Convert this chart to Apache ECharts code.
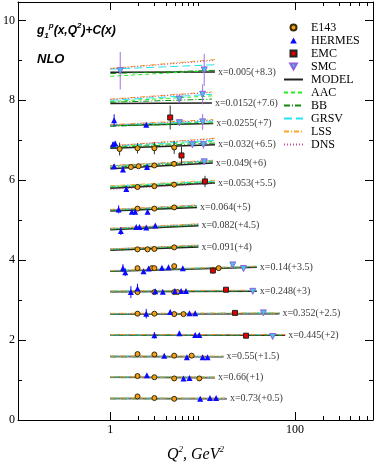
<!DOCTYPE html>
<html>
<head>
<meta charset="utf-8">
<script src="https://cdn.jsdelivr.net/npm/echarts@6/dist/echarts.min.js"></script>
<style>
  html, body { margin: 0; padding: 0; background: #fff; }
  #main { width: 374px; height: 468px; }
</style>
</head>
<body>
<div id="main"></div>
<script>
// x bins, their labels and where the curves stop (Q^2, GeV^2)
var binLabels = ['x=0.005(+8.3)', 'x=0.0152(+7.6)', 'x=0.0255(+7)', 'x=0.032(+6.5)', 'x=0.049(+6)',
  'x=0.053(+5.5)', 'x=0.064(+5)', 'x=0.082(+4.5)', 'x=0.091(+4)', 'x=0.14(+3.5)', 'x=0.248(+3)',
  'x=0.352(+2.5)', 'x=0.445(+2)', 'x=0.55(+1.5)', 'x=0.66(+1)', 'x=0.73(+0.5)'];
var binQmax = [13.6, 12.6, 13.0, 13.6, 12.9, 13.6, 8.7, 9.0, 9.0, 38.6, 38.6, 67.9, 78.3, 16.8, 13.6, 18.3];

// curves: value at Q^2=1 and at Q^2=binQmax, one entry per bin
var modelStart = [8.70, 7.92, 7.37, 6.80, 6.29, 5.80, 5.23, 4.76, 4.25, 3.72, 3.21, 2.65, 2.13, 1.59, 1.07, 0.54];
var modelEnd   = [8.71, 7.93, 7.42, 6.89, 6.43, 5.93, 5.32, 4.86, 4.33, 3.82, 3.22, 2.66, 2.12, 1.58, 1.06, 0.53];
var aacStart   = [8.60, 7.97, 7.36, 6.84, 6.35, 5.84, 5.25, 4.78, 4.27, 3.73, 3.22, 2.66, 2.13, 1.59, 1.07, 0.54];
var aacEnd     = [8.75, 8.11, 7.46, 6.97, 6.48, 5.97, 5.36, 4.89, 4.36, 3.84, 3.24, 2.67, 2.13, 1.59, 1.07, 0.54];
var bbStart    = [8.67, 7.95, 7.35, 6.82, 6.32, 5.82, 5.24, 4.77, 4.26, 3.72, 3.21, 2.65, 2.12, 1.58, 1.06, 0.53];
var bbEnd      = [8.75, 8.03, 7.43, 6.93, 6.46, 5.95, 5.34, 4.87, 4.35, 3.83, 3.23, 2.67, 2.13, 1.59, 1.07, 0.54];
var grsvStart  = [8.78, 8.00, 7.38, 6.85, 6.36, 5.85, 5.26, 4.79, 4.28, 3.74, 3.23, 2.66, 2.13, 1.60, 1.08, 0.55];
var grsvEnd    = [8.89, 8.15, 7.48, 7.00, 6.49, 5.98, 5.37, 4.90, 4.37, 3.85, 3.24, 2.68, 2.14, 1.59, 1.07, 0.54];
var lssStart   = [8.80, 8.03, 7.39, 6.86, 6.37, 5.86, 5.27, 4.80, 4.28, 3.74, 3.23, 2.67, 2.14, 1.60, 1.08, 0.55];
var lssEnd     = [9.02, 8.21, 7.52, 7.05, 6.50, 6.00, 5.38, 4.91, 4.38, 3.85, 3.25, 2.68, 2.14, 1.60, 1.07, 0.55];
var dnsStart   = [8.79, 8.02, 7.38, 6.86, 6.36, 5.77, 5.26, 4.79, 4.28, 3.73, 3.22, 2.66, 2.13, 1.59, 1.07, 0.54];
var dnsEnd     = [9.00, 8.20, 7.50, 7.04, 6.49, 5.92, 5.37, 4.90, 4.37, 3.84, 3.24, 2.67, 2.13, 1.59, 1.07, 0.54];

// data points: [Q^2, g1 + C, error]
var e143Points = [
  [1.26, 6.78, 0.16], [1.97, 6.80, 0.13], [3.0, 6.80, 0.15], [4.92, 6.82, 0.16],
  [1.67, 6.33, 0.04], [2.02, 6.35, 0.04], [3.0, 6.37, 0.04], [4.9, 6.41, 0.05],
  [1.97, 5.83, 0.03], [3.0, 5.85, 0.03], [4.9, 5.89, 0.04],
  [1.97, 5.29, 0.03], [3.0, 5.29, 0.03], [4.92, 5.32, 0.03],
  [1.97, 4.27, 0.03], [2.53, 4.27, 0.03], [3.0, 4.28, 0.03], [4.92, 4.32, 0.03],
  [1.97, 3.80, 0.03], [2.82, 3.80, 0.03], [3.0, 3.80, 0.03], [4.92, 3.85, 0.03], [14.9, 3.80, 0.04],
  [1.97, 3.20, 0.03], [3.0, 3.20, 0.03], [4.92, 3.20, 0.03], [5.34, 3.20, 0.03],
  [1.97, 2.66, 0.03], [3.0, 2.66, 0.03], [4.92, 2.65, 0.03], [6.2, 2.65, 0.03],
  [1.97, 1.65, 0.03], [3.0, 1.64, 0.03], [4.92, 1.61, 0.03], [7.6, 1.61, 0.03],
  [1.97, 1.10, 0.03], [3.0, 1.07, 0.03], [4.92, 1.04, 0.03], [9.2, 1.04, 0.03],
  [1.97, 0.59, 0.03], [3.0, 0.55, 0.03], [4.92, 0.53, 0.03]
];
var hermesPoints = [
  [1.1, 7.50, 0.15], [2.45, 7.39, 0.05],
  [1.07, 6.90, 0.06], [1.13, 6.92, 0.06],
  [1.1, 6.35, 0.05], [1.37, 6.27, 0.07], [2.5, 6.33, 0.03],
  [1.49, 5.78, 0.07],
  [1.23, 5.27, 0.1], [1.71, 5.21, 0.04], [1.86, 5.21, 0.04], [2.53, 5.21, 0.04],
  [1.3, 4.73, 0.1], [1.91, 4.83, 0.03], [2.07, 4.83, 0.03], [2.45, 4.82, 0.03], [3.07, 4.87, 0.03],
  [1.37, 3.80, 0.1], [1.45, 3.70, 0.1], [2.29, 3.72, 0.03], [2.6, 3.79, 0.03], [3.62, 3.81, 0.03], [4.27, 3.82, 0.03], [6.1, 3.80, 0.03],
  [1.67, 3.20, 0.15], [1.97, 3.29, 0.12], [3.07, 3.22, 0.03], [3.7, 3.21, 0.03], [5.0, 3.23, 0.03], [5.85, 3.23, 0.03], [6.6, 3.23, 0.03],
  [2.45, 2.66, 0.12], [4.45, 2.70, 0.04], [7.2, 2.67, 0.04], [8.3, 2.67, 0.04],
  [3.0, 2.12, 0.08], [5.6, 2.17, 0.04], [8.3, 2.13, 0.04], [9.2, 2.13, 0.04],
  [3.84, 1.61, 0.03], [6.75, 1.57, 0.03], [10.0, 1.57, 0.03], [11.3, 1.57, 0.03],
  [2.49, 1.12, 0.03], [6.2, 1.04, 0.03], [7.2, 1.05, 0.03],
  [9.4, 0.53, 0.03], [12.0, 0.55, 0.03], [14.0, 0.55, 0.03]
];
var emcPoints = [
  [4.45, 7.57, 0.3], [5.9, 6.62, 0.22], [10.6, 5.97, 0.14], [12.9, 3.74, 0.08],
  [17.9, 3.26, 0.04], [22.4, 2.68, 0.04], [29.5, 2.11, 0.03]
];
var smcPoints = [
  [1.28, 8.74, 0.47], [10.4, 8.76, 0.4],
  [5.6, 8.03, 0.1], [10.0, 8.15, 0.25],
  [5.6, 7.44, 0.08], [10.0, 7.46, 0.2],
  [7.75, 6.89, 0.08], [10.2, 6.89, 0.1],
  [10.4, 6.46, 0.06],
  [21.2, 3.88, 0.04], [27.7, 3.79, 0.04],
  [34.9, 3.22, 0.03], [45.5, 2.68, 0.03], [57.3, 2.09, 0.03]
];

// axis ticks
var xMajor = [1, 100];
var xMinor = [2, 3, 4, 5, 6, 7, 8, 9, 200, 300, 400, 500, 600];
var yMajor = [0, 2, 4, 6, 8, 10];
var yMinor = [1, 3, 5, 7, 9];

var serif = 'Liberation Serif';
var triUp = 'path://M5,0 L10,9 L0,9 Z';
var triDown = 'path://M0,0 L10,0 L5,9 Z';
var square = 'path://M0,0 L10,0 L10,10 L0,10 Z';

// two points per bin, break between bins
function segs(start, end) {
  var d = [];
  for (var i = 0; i < binQmax.length; i++) {
    d.push([1, start[i]], [binQmax[i], end[i]], ['-', '-']);
  }
  return d;
}

function lineSeries(name, start, end, color, type, width) {
  return {
    name: name, type: 'line', xAxisIndex: 0, yAxisIndex: 0,
    data: segs(start, end), showSymbol: false, symbol: 'none',
    connectNulls: false, silent: true, z: 2,
    lineStyle: { color: color, width: width || 1, type: type },
    itemStyle: { color: color }
  };
}

// vertical error bars
function errRender(params, api) {
  var q = api.value(0), v = api.value(1), e = api.value(2);
  var p1 = api.coord([q, v - e]), p2 = api.coord([q, v + e]);
  return {
    type: 'line',
    shape: { x1: p1[0], y1: p1[1], x2: p2[0], y2: p2[1] },
    style: { stroke: api.visual('color'), lineWidth: 1 }
  };
}
function errSeries(name, data, color) {
  return {
    name: name, type: 'custom', renderItem: errRender, data: data,
    encode: { x: 0, y: 1 }, itemStyle: { color: color }, silent: true, z: 3
  };
}

function xAx(pos, ticks, len, line, labels) {
  return {
    type: 'log', logBase: 10, min: 0.1, max: 700, position: pos, gridIndex: 0,
    axisLine: { show: line, onZero: false, lineStyle: { color: '#000', width: 1 } },
    axisTick: { show: true, inside: true, length: len, customValues: ticks, lineStyle: { color: '#000' } },
    axisLabel: labels ? { show: true, customValues: xMajor, color: '#000', fontFamily: serif, fontSize: 12, margin: 4,
      formatter: function (v) { return String(Math.round(v)); } } : { show: false },
    splitLine: { show: false }, minorTick: { show: false }
  };
}
function yAx(pos, ticks, len, line, labels) {
  return {
    type: 'value', min: 0, max: 10.46, position: pos, gridIndex: 0,
    axisLine: { show: line, onZero: false, lineStyle: { color: '#000', width: 1 } },
    axisTick: { show: true, inside: true, length: len, customValues: ticks, lineStyle: { color: '#000' } },
    axisLabel: labels ? { show: true, customValues: yMajor, color: '#000', fontFamily: serif, fontSize: 12, margin: 3 } : { show: false },
    splitLine: { show: false }
  };
}

var xAxes = [
  xAx('bottom', xMajor, 8, true, true),
  xAx('bottom', xMinor, 4, false, false),
  xAx('top', xMajor, 8, true, false),
  xAx('top', xMinor, 4, false, false)
];
xAxes[0].name = '{i|Q}{s|2}{i|, GeV}{s|2}';
xAxes[0].nameLocation = 'middle';
xAxes[0].nameGap = 25;
xAxes[0].nameTextStyle = {
  rich: {
    i: { fontFamily: serif, fontStyle: 'italic', fontSize: 16, color: '#000', lineHeight: 20 },
    s: { fontFamily: serif, fontStyle: 'italic', fontSize: 9, color: '#000', verticalAlign: 'top', lineHeight: 10 }
  }
};

var yAxes = [
  yAx('left', yMajor, 8, true, true),
  yAx('left', yMinor, 4, false, false),
  yAx('right', yMajor, 8, true, false),
  yAx('right', yMinor, 4, false, false)
];

var labelData = binLabels.map(function (t, i) { return [binQmax[i], modelEnd[i], t]; });
var noSym = { opacity: 0 };

var chart = echarts.init(document.getElementById('main'), null, { renderer: 'canvas' });
var option = {
  animation: false,
  backgroundColor: '#fff',
  grid: { left: 17, right: 1, top: 2, bottom: 37, containLabel: false },
  xAxis: xAxes,
  yAxis: yAxes,
  legend: {
    orient: 'vertical', left: 283, top: 21, padding: 0,
    itemWidth: 19, itemHeight: 6, itemGap: 0,
    textStyle: { fontFamily: serif, fontSize: 12, color: '#000', lineHeight: 13, padding: [0, 0, 0, 3] },
    data: [
      { name: 'E143', icon: 'circle' },
      { name: 'HERMES', icon: triUp },
      { name: 'EMC', icon: square },
      { name: 'SMC', icon: triDown },
      { name: 'MODEL', itemStyle: noSym },
      { name: 'AAC', itemStyle: noSym },
      { name: 'BB', itemStyle: noSym },
      { name: 'GRSV', itemStyle: noSym },
      { name: 'LSS', itemStyle: noSym },
      { name: 'DNS', itemStyle: noSym }
    ]
  },
  graphic: [
    {
      type: 'text', left: 37, top: 22,
      style: {
        text: '{t|g}{s|1}{p|p}{t|(x,Q}{p|2}{t|)+C(x)}',
        rich: {
          t: { fontFamily: 'Liberation Sans', fontWeight: 'bold', fontStyle: 'italic', fontSize: 12, fill: '#000', lineHeight: 18 },
          s: { fontFamily: 'Liberation Sans', fontWeight: 'bold', fontStyle: 'italic', fontSize: 8, fill: '#000', verticalAlign: 'bottom', lineHeight: 8 },
          p: { fontFamily: 'Liberation Sans', fontWeight: 'bold', fontStyle: 'italic', fontSize: 8, fill: '#000', verticalAlign: 'top', lineHeight: 8 }
        }
      }
    },
    {
      type: 'text', left: 37, top: 53,
      style: { text: 'NLO', fontFamily: 'Liberation Sans', fontWeight: 'bold', fontStyle: 'italic', fontSize: 13, fill: '#000' }
    }
  ],
  series: [
    lineSeries('MODEL', modelStart, modelEnd, '#222', 'solid', 1.5),
    lineSeries('AAC', aacStart, aacEnd, '#22ee22', [4, 3]),
    lineSeries('BB', bbStart, bbEnd, '#108a10', [6, 2, 1, 2]),
    lineSeries('GRSV', grsvStart, grsvEnd, '#22e5f0', [8, 4]),
    lineSeries('LSS', lssStart, lssEnd, '#f5a623', [5, 2, 1, 2]),
    lineSeries('DNS', dnsStart, dnsEnd, '#c8489a', [1, 2]),
    errSeries('E143 err', e143Points, '#333'),
    errSeries('HERMES err', hermesPoints, '#1010ff'),
    errSeries('EMC err', emcPoints, '#333'),
    errSeries('SMC err', smcPoints, '#a070e0'),
    {
      name: 'E143', type: 'scatter', data: e143Points, symbol: 'circle', symbolSize: 5, z: 5,
      itemStyle: { color: '#f0a01e', borderColor: '#3a2a00', borderWidth: 1, opacity: 1 }
    },
    {
      name: 'HERMES', type: 'scatter', data: hermesPoints, symbol: triUp, symbolSize: 6, z: 5,
      itemStyle: { color: '#0a0aff', opacity: 1 }
    },
    {
      name: 'EMC', type: 'scatter', data: emcPoints, symbol: square, symbolSize: 5, z: 5,
      itemStyle: { color: '#e00000', borderColor: '#222', borderWidth: 1, opacity: 1 }
    },
    {
      name: 'SMC', type: 'scatter', data: smcPoints, symbol: triDown, symbolSize: 6, z: 5,
      itemStyle: { color: '#40c8e8', borderColor: '#9060e0', borderWidth: 1, opacity: 1 }
    },
    {
      name: 'labels', type: 'scatter', data: labelData, symbolSize: 0, silent: true, z: 6,
      label: {
        show: true, position: 'right', distance: 3, color: '#000', fontFamily: serif, fontSize: 10,
        formatter: function (p) { return p.value[2]; }
      }
    }
  ]
};
chart.setOption(option);
</script>
</body>
</html>
